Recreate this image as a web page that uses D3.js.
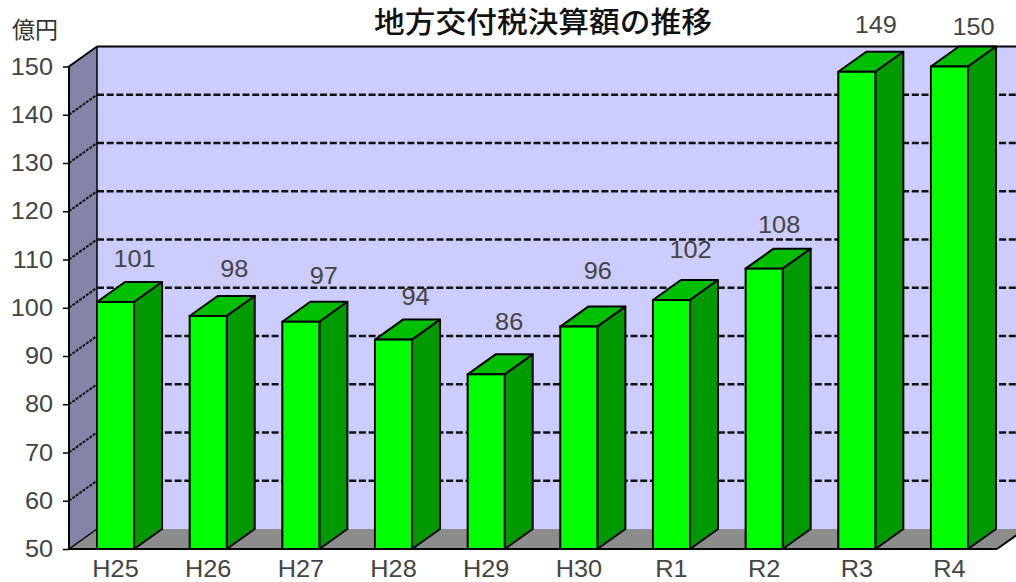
<!DOCTYPE html>
<html><head><meta charset="utf-8">
<script src="https://cdn.jsdelivr.net/npm/d3@7/dist/d3.min.js"></script>
<style>html,body{margin:0;padding:0;background:#fff}svg{display:block}</style>
</head><body><svg id="c" width="1016" height="582"></svg>
<script>
const categories=["H25","H26","H27","H28","H29","H30","R1","R2","R3","R4"];
const values=[101.2,98.3,97.1,93.4,86.2,96.1,101.6,108.1,148.9,150];
const valueLabels=["101","98","97","94","86","96","102","108","149","150"];
const labelRise=[43,47,46,43,52,56,50,44,47,40];
const labelShift=[5,12,9,8,9,5,5,1,5,10];
const yTicks=[50,60,70,80,90,100,110,120,130,140,150];
const gridValues=[60,70,80,90,100,110,120,130,140];
const title="地方交付税決算額の推移";
const unit="億円";

const W=1016,H=582,DX=28,DY=-20;
const svg=d3.select("#c");
const y=d3.scaleLinear().domain([50,150]).range([549,66.5]);
const x=d3.scaleBand().domain(categories).range([97,968]).paddingInner(0.6);
const frontL=69,frontR=997;
const poly=p=>p.map(a=>a.join(",")).join(" ");
const SANS="'Liberation Sans',Arial,sans-serif";
const CJK="'Noto Sans CJK JP',sans-serif";

// back wall, left wall, floor
svg.append("polygon").attr("points",poly([[frontL+DX,y(150)+DY],[W+10,y(150)+DY],[W+10,y(50)+DY],[frontL+DX,y(50)+DY]])).attr("fill","#ccccff");
svg.append("polygon").attr("points",poly([[frontL,y(50)],[frontR,y(50)],[frontR+DX,y(50)+DY],[frontL+DX,y(50)+DY]])).attr("fill","#8c8c8c");
svg.append("polygon").attr("points",poly([[frontL,y(150)],[frontL+DX,y(150)+DY],[frontL+DX,y(50)+DY],[frontL,y(50)]])).attr("fill","#8484a8");

// grid
svg.selectAll(".g").data(gridValues).join("line").attr("x1",frontL+DX).attr("x2",W+10)
  .attr("y1",d=>y(d)+DY).attr("y2",d=>y(d)+DY).attr("stroke","#111").attr("stroke-width",2.4).attr("stroke-dasharray","7,2.7");
svg.selectAll(".gd").data(gridValues).join("line").attr("x1",frontL).attr("x2",frontL+DX)
  .attr("y1",d=>y(d)).attr("y2",d=>y(d)+DY).attr("stroke","#111").attr("stroke-width",2).attr("stroke-dasharray","3,1.2");

// wall edges
const edge=(pts,w)=>svg.append("polyline").attr("points",poly(pts)).attr("fill","none").attr("stroke","#000").attr("stroke-width",w);
edge([[frontL+DX,y(50)+DY],[frontL+DX,y(150)+DY]],1.5);
edge([[frontL+DX,y(150)+DY],[W+10,y(150)+DY]],2);
edge([[frontL,y(50)],[frontL+DX,y(50)+DY]],1.5);
edge([[frontL,y(50)],[frontL,y(150)],[frontL+DX,y(150)+DY]],2);
edge([[frontR,y(50)],[frontR+DX,y(50)+DY]],2);

// bars
const bw=x.bandwidth();
const bars=svg.selectAll(".bar").data(categories.map((c,i)=>({c,v:values[i]}))).join("g");
bars.append("polygon").attr("points",d=>{const l=x(d.c),r=l+bw,t=y(d.v);return poly([[l,t],[r,t],[r+DX,t+DY],[l+DX,t+DY]])})
  .attr("fill","#00bf00").attr("stroke","#000").attr("stroke-width",2).attr("stroke-linejoin","round");
bars.append("polygon").attr("points",d=>{const r=x(d.c)+bw,t=y(d.v);return poly([[r,t],[r+DX,t+DY],[r+DX,y(50)+DY],[r,y(50)]])})
  .attr("fill","#009900").attr("stroke","#000").attr("stroke-width",2).attr("stroke-linejoin","round");
bars.append("rect").attr("x",d=>x(d.c)).attr("y",d=>y(d.v)).attr("width",bw).attr("height",d=>y(50)-y(d.v))
  .attr("fill","#00ff00").attr("stroke","#000").attr("stroke-width",2);

// baseline
edge([[frontL,y(50)],[frontR,y(50)]],2);

// wide text helper
function wide(px,py,str,anchor,size,sx,fam,weight,fill){
  svg.append("text").attr("transform",`translate(${px},${py}) scale(${sx},1)`)
    .attr("text-anchor",anchor).attr("font-family",fam).attr("font-size",size)
    .attr("font-weight",weight||400).attr("fill",fill||"#444").text(str);
}

// y axis
const ax=svg.append("g").attr("transform",`translate(${frontL},0)`).call(d3.axisLeft(y).tickValues(yTicks).tickSize(6).tickFormat(""));
ax.select(".domain").remove();
ax.selectAll("line").attr("stroke","#000").attr("stroke-width",1.5);
yTicks.forEach(t=>wide(53,y(t)+8,String(t),"end",23,1.1,SANS));

// x labels
categories.forEach(c=>wide(x(c)+bw/2,577,c,"middle",23,1.1,SANS));

// value labels
categories.forEach((c,i)=>wide(x(c)+bw/2+DX/2+labelShift[i],y(values[i])-labelRise[i]+8,valueLabels[i],"middle",23,1.1,SANS));

// title + unit
wide(543,33,title,"middle",29,1.06,CJK,500,"#111");
wide(35,38,unit,"middle",23,1,CJK,400,"#333");
</script></body></html>
